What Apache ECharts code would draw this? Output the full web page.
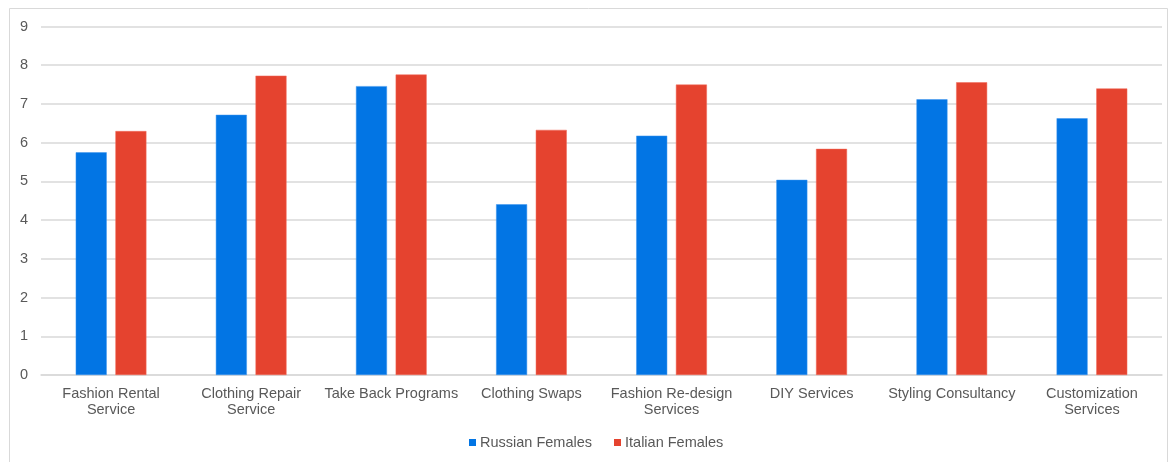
<!DOCTYPE html>
<html>
<head>
<meta charset="utf-8">
<script src="https://cdn.jsdelivr.net/npm/echarts@6/dist/echarts.min.js"></script>
<style>
html,body{margin:0;padding:0;background:#fff;}
#c{width:1170px;height:462px;}
</style>
</head>
<body>
<div id="c"></div>
<script>
var categories = ['Fashion Rental\nService','Clothing Repair\nService','Take Back Programs','Clothing Swaps','Fashion Re-design\nServices','DIY Services','Styling Consultancy','Customization\nServices'];
var russianFemales = [5.75, 6.72, 7.46, 4.41, 6.18, 5.04, 7.12, 6.63];
var italianFemales = [6.30, 7.73, 7.76, 6.33, 7.50, 5.84, 7.56, 7.40];
var yTicks = [0,1,2,3,4,5,6,7,8,9];

var chart = echarts.init(document.getElementById('c'), null, {renderer:'canvas'});
var font = 'Liberation Sans, Arial, sans-serif';
chart.setOption({
  animation:false,
  backgroundColor:'#ffffff',
  textStyle:{fontFamily:font},
  graphic:[{type:'rect',shape:{x:9.5,y:8.5,width:1158,height:470},style:{fill:null,stroke:'#d9d9d9',lineWidth:1},silent:true,z:-1}],
  grid:{left:41,right:8,top:26.5,bottom:87,containLabel:false},
  legend:{
    top:430,left:464,
    itemWidth:7,itemHeight:7,itemGap:22,icon:'rect',
    itemStyle:{borderWidth:0},
    textStyle:{color:'#595959',fontSize:14.5,fontFamily:font,padding:[0,0,0,-1]},
    data:['Russian Females','Italian Females']
  },
  xAxis:{
    type:'category',data:categories,
    axisLine:{lineStyle:{color:'#d9d9d9',width:1.5}},
    axisTick:{show:false},
    axisLabel:{color:'#595959',fontSize:14.5,fontFamily:font,margin:11,lineHeight:16,interval:0}
  },
  yAxis:{
    type:'value',min:0,max:yTicks[yTicks.length-1],interval:1,
    axisLine:{show:false},axisTick:{show:false},
    splitLine:{lineStyle:{color:'#d9d9d9',width:1.5}},
    axisLabel:{color:'#595959',fontSize:14.5,fontFamily:font,margin:13}
  },
  series:[
    {name:'Russian Females',type:'bar',data:russianFemales,barWidth:31,barGap:'28%',
     itemStyle:{color:'#0275e4',borderColor:'#3d95ee',borderWidth:0.5}},
    {name:'Italian Females',type:'bar',data:italianFemales,barWidth:31,barGap:'28%',
     itemStyle:{color:'#e5432f',borderColor:'#f06a5a',borderWidth:0.5}}
  ]
});
</script>
</body>
</html>
